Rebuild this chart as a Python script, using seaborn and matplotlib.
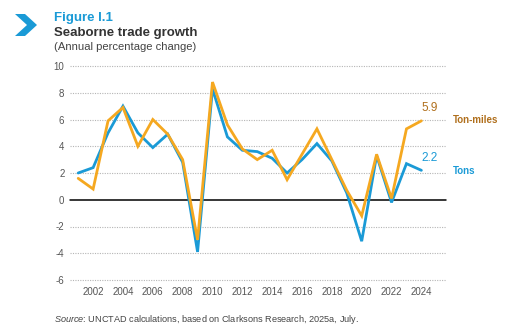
import matplotlib
matplotlib.use("Agg")
import matplotlib.pyplot as plt
import seaborn as sns
import pandas as pd
from matplotlib.patches import Polygon

years = list(range(2001, 2025))
tons = [2.0, 2.4, 5.0, 7.0, 5.0, 3.9, 4.9, 2.8, -3.9, 8.3, 4.7, 3.7, 3.6, 3.1, 2.0, 3.0,
        4.2, 2.9, 0.5, -3.1, 3.3, -0.2, 2.7, 2.2]
ton_miles = [1.6, 0.8, 5.9, 6.9, 4.0, 6.0, 4.9, 3.0, -3.0, 8.8, 5.6, 3.8, 3.0, 3.7, 1.5, 3.4,
             5.3, 3.0, 0.7, -1.2, 3.4, 0.1, 5.3, 5.9]
series_names = ["Tons", "Ton-miles"]
yticks = [-6, -4, -2, 0, 2, 4, 6, 8, 10]
xticks = list(range(2002, 2025, 2))

blue = "#1a9ad6"
orange = "#f5a820"
brown = "#b06f1c"

df = pd.DataFrame({
    "year": years * 2,
    "value": tons + ton_miles,
    "series": [series_names[0]] * len(years) + [series_names[1]] * len(years),
})

sns.set_theme(style="white")
plt.rcParams["font.family"] = ["Liberation Sans", "DejaVu Sans"]
plt.rcParams["mathtext.fontset"] = "custom"
plt.rcParams["mathtext.it"] = "Liberation Sans:italic"
plt.rcParams["mathtext.rm"] = "Liberation Sans"

fig = plt.figure(figsize=(5.12, 3.36), dpi=100)
ax = fig.add_axes([70 / 512, 1 - 280 / 336, (446 - 70) / 512, 214 / 336])

for y in yticks:
    if y == 0:
        ax.axhline(0, color="black", lw=1.1, zorder=1)
    else:
        ax.axhline(y, color="#b5b5b5", lw=0.8, ls=(0, (1, 1.2)), zorder=0)

sns.lineplot(data=df, x="year", y="value", hue="series",
             palette={"Tons": blue, "Ton-miles": orange},
             hue_order=["Tons", "Ton-miles"], lw=2.0, ax=ax, legend=False,
             zorder=3)
for l in ax.lines:
    l.set_clip_on(False)
    l.set_solid_joinstyle("miter")

ax.set_xlim(2000.45, 2025.65)
ax.set_ylim(-6, 10)
ax.set_yticks(yticks)
ax.set_xticks(xticks)
ax.set_yticklabels([str(v) for v in yticks])
ax.set_xticklabels([str(v) for v in xticks])
ax.tick_params(axis="both", length=0, labelsize=7, colors="#555555")
ax.tick_params(axis="y", pad=4)
ax.tick_params(axis="x", pad=5)
ax.set_xlabel("")
ax.set_ylabel("")
for s in ax.spines.values():
    s.set_visible(False)

# end labels
ax.annotate(f"{ton_miles[-1]:.1f}", xy=(years[-1], ton_miles[-1]), xytext=(6, 9),
            textcoords="offset points", ha="center", va="center",
            fontsize=8.5, color=brown, annotation_clip=False)
ax.annotate(f"{tons[-1]:.1f}", xy=(years[-1], tons[-1]), xytext=(6, 9),
            textcoords="offset points", ha="center", va="center",
            fontsize=8.5, color=blue, annotation_clip=False)
fig.text(453 / 512, 1 - 120 / 336, "Ton-miles", fontsize=7, fontweight="bold",
         color=brown, ha="left", va="center")
fig.text(453 / 512, 1 - 171 / 336, "Tons", fontsize=7, fontweight="bold",
         color=blue, ha="left", va="center")

# header
pts = [(15, 14), (25, 14), (37, 25), (25, 36), (15, 36), (27, 25)]
fig.patches.append(Polygon([(x / 512, 1 - y / 336) for x, y in pts], closed=True,
                           transform=fig.transFigure, facecolor=blue, edgecolor="none"))
fig.text(54 / 512, 1 - 18 / 336, "Figure I.1", fontsize=9.5, fontweight="bold",
         color=blue, ha="left", va="center")
fig.text(54 / 512, 1 - 33 / 336, "Seaborne trade growth", fontsize=9.5,
         fontweight="bold", color="#333333", ha="left", va="center")
fig.text(54 / 512, 1 - 47 / 336, "(Annual percentage change)", fontsize=8.1,
         color="#444444", ha="left", va="center")

fig.text(54 / 512, 1 - 320 / 336,
         r"$\it{Source}$: UNCTAD calculations, based on Clarksons Research, 2025a, July.",
         fontsize=6.6, color="#444444", ha="left", va="center")

fig.savefig("out.png", dpi=100)
